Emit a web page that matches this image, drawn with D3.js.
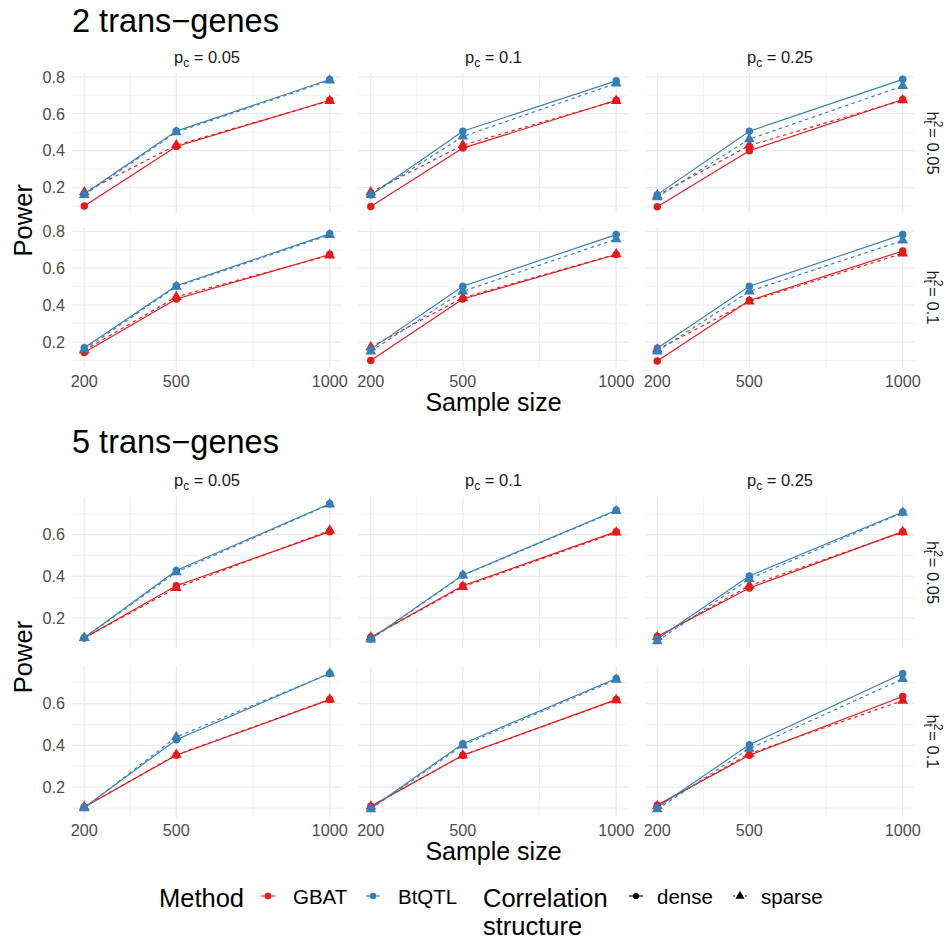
<!DOCTYPE html>
<html>
<head>
<meta charset="utf-8">
<script src="https://cdn.jsdelivr.net/npm/d3@7"></script>
<style>
  body { margin: 0; background: #fff; }
  text { font-family: "Liberation Sans", Arial, sans-serif; }
</style>
</head>
<body>
<div id="chart"></div>
<script>
// facets and categories
const sampleSizes = [200, 500, 1000];
const pcLevels = ["0.05", "0.1", "0.25"];
const h2Levels = ["0.05", "0.1"];
const methods = ["GBAT", "BtQTL"];
const structures = ["dense", "sparse"];
const blockTitles = ["2 trans\u2212genes", "5 trans\u2212genes"];

// power values; rows = panels [h2=0.05: pc .05,.1,.25 | h2=0.1: pc .05,.1,.25], cols = sample size
const gbatDense2 = [
  [0.100, 0.423, 0.673], [0.098, 0.414, 0.673], [0.097, 0.400, 0.677],
  [0.144, 0.433, 0.674], [0.100, 0.433, 0.674], [0.098, 0.425, 0.693]
];
const gbatSparse2 = [
  [0.175, 0.430, 0.670], [0.175, 0.430, 0.670], [0.157, 0.428, 0.673],
  [0.155, 0.445, 0.670], [0.173, 0.440, 0.676], [0.160, 0.420, 0.680]
];
const btqtlDense2 = [
  [0.165, 0.506, 0.785], [0.160, 0.505, 0.778], [0.162, 0.505, 0.786],
  [0.170, 0.505, 0.786], [0.162, 0.502, 0.782], [0.167, 0.502, 0.782]
];
const btqtlSparse2 = [
  [0.160, 0.500, 0.780], [0.160, 0.477, 0.764], [0.148, 0.462, 0.750],
  [0.160, 0.500, 0.780], [0.150, 0.475, 0.758], [0.150, 0.475, 0.750]
];

const gbatDense5 = [
  [0.105, 0.355, 0.614], [0.109, 0.355, 0.614], [0.112, 0.344, 0.614],
  [0.105, 0.353, 0.619], [0.108, 0.353, 0.619], [0.114, 0.353, 0.634]
];
const gbatSparse5 = [
  [0.105, 0.345, 0.620], [0.108, 0.350, 0.610], [0.110, 0.355, 0.612],
  [0.105, 0.355, 0.620], [0.108, 0.352, 0.617], [0.110, 0.360, 0.614]
];
const btqtlDense5 = [
  [0.106, 0.428, 0.747], [0.100, 0.407, 0.716], [0.100, 0.402, 0.708],
  [0.103, 0.427, 0.744], [0.098, 0.408, 0.720], [0.103, 0.403, 0.744]
];
const btqtlSparse5 = [
  [0.105, 0.420, 0.745], [0.098, 0.405, 0.713], [0.090, 0.388, 0.705],
  [0.100, 0.440, 0.744], [0.095, 0.400, 0.715], [0.095, 0.384, 0.718]
];

const yBreaks2 = [0.2, 0.4, 0.6, 0.8];
const yBreaks5 = [0.2, 0.4, 0.6];

const blocks = [
  { title: blockTitles[0], breaks: yBreaks2,
    data: { GBAT: { dense: gbatDense2, sparse: gbatSparse2 }, BtQTL: { dense: btqtlDense2, sparse: btqtlSparse2 } },
    titleY: 32, stripY: 63, rows: [[73, 213], [227.5, 367.5]], tickY: 386.5, xTitleY: 411 },
  { title: blockTitles[1], breaks: yBreaks5,
    data: { GBAT: { dense: gbatDense5, sparse: gbatSparse5 }, BtQTL: { dense: btqtlDense5, sparse: btqtlSparse5 } },
    titleY: 453, stripY: 486, rows: [[497, 648], [666, 817]], tickY: 835.5, xTitleY: 860 }
];

const width = 947, height = 941;
const colX = [72, 358.5, 645];
const panelW = 270;
const color = d3.scaleOrdinal().domain(methods).range(["#E41A1C", "#377EB8"]);
const dash = { dense: null, sparse: "3.5,3.5" };
const symbolOf = { dense: d3.symbol(d3.symbolCircle, 44), sparse: d3.symbol(d3.symbolTriangle, 50) };

const svg = d3.select("#chart").append("svg")
  .attr("width", width).attr("height", height);

const x = d3.scaleLinear().domain([160, 1040]).range([0, panelW]);
const xMinor = [350, 750];

blocks.forEach(function(b) {
  const all = [];
  methods.forEach(m => structures.forEach(s => b.data[m][s].forEach(r => all.push(...r))));
  const ext = d3.extent(all);
  const pad = (ext[1] - ext[0]) * 0.05;
  const yDom = [ext[0] - pad, ext[1] + pad];
  const yMinor = [0.1, 0.3, 0.5, 0.7, 0.9].filter(v => v > yDom[0] && v < yDom[1]);

  svg.append("text")
    .attr("x", 72).attr("y", b.titleY)
    .attr("font-size", 32.5).attr("fill", "#000")
    .text(b.title);

  // top strips
  pcLevels.forEach(function(pc, j) {
    const t = svg.append("text")
      .attr("x", colX[j] + panelW / 2).attr("y", b.stripY)
      .attr("text-anchor", "middle").attr("font-size", 16.5).attr("fill", "#1A1A1A");
    t.append("tspan").text("p");
    t.append("tspan").attr("font-size", 12).attr("dy", 3.5).text("c");
    t.append("tspan").attr("dy", -3.5).text(" = " + pc);
  });

  h2Levels.forEach(function(h, i) {
    const row = b.rows[i];
    const y = d3.scaleLinear().domain(yDom).range([row[1], row[0]]);
    const cy = (row[0] + row[1]) / 2;

    // right strip
    const t = svg.append("text")
      .attr("transform", `translate(927,${cy}) rotate(90)`)
      .attr("text-anchor", "middle").attr("font-size", 16.5).attr("fill", "#1A1A1A");
    t.append("tspan").text("h");
    t.append("tspan").attr("font-size", 12).attr("dy", -7).text("2");
    t.append("tspan").attr("font-size", 12).attr("dx", -7).attr("dy", 10.5).text("t");
    t.append("tspan").attr("dy", -3.5).text(" = " + h);

    // y tick labels on left column
    b.breaks.forEach(function(v) {
      svg.append("text")
        .attr("x", 65).attr("y", y(v) + 5.8)
        .attr("text-anchor", "end").attr("font-size", 16.2).attr("fill", "#4D4D4D")
        .text(v.toFixed(1));
    });

    pcLevels.forEach(function(pc, j) {
      const g = svg.append("g").attr("transform", `translate(${colX[j]},0)`);
      const k = i * 3 + j;

      g.selectAll(".minor-y").data(yMinor).enter().append("line")
        .attr("x1", 0).attr("x2", panelW).attr("y1", d => y(d)).attr("y2", d => y(d))
        .attr("stroke", "#EBEBEB").attr("stroke-width", 0.7);
      g.selectAll(".minor-x").data(xMinor).enter().append("line")
        .attr("x1", d => x(d)).attr("x2", d => x(d)).attr("y1", row[0]).attr("y2", row[1])
        .attr("stroke", "#EBEBEB").attr("stroke-width", 0.7);
      g.selectAll(".major-y").data(b.breaks).enter().append("line")
        .attr("x1", 0).attr("x2", panelW).attr("y1", d => y(d)).attr("y2", d => y(d))
        .attr("stroke", "#EBEBEB").attr("stroke-width", 1.3);
      g.selectAll(".major-x").data(sampleSizes).enter().append("line")
        .attr("x1", d => x(d)).attr("x2", d => x(d)).attr("y1", row[0]).attr("y2", row[1])
        .attr("stroke", "#EBEBEB").attr("stroke-width", 1.3);

      const line = d3.line().x(d => x(d[0])).y(d => y(d[1]));
      methods.forEach(function(m) {
        structures.forEach(function(s) {
          const pts = sampleSizes.map((n, q) => [n, b.data[m][s][k][q]]);
          g.append("path").attr("d", line(pts))
            .attr("fill", "none").attr("stroke", color(m)).attr("stroke-width", 1.15)
            .attr("stroke-dasharray", dash[s]);
        });
      });
      methods.forEach(function(m) {
        structures.forEach(function(s) {
          const pts = sampleSizes.map((n, q) => [n, b.data[m][s][k][q]]);
          g.selectAll(null).data(pts).enter().append("path")
            .attr("d", symbolOf[s])
            .attr("transform", d => `translate(${x(d[0])},${y(d[1])})`)
            .attr("fill", color(m));
        });
      });

      if (i === 1) {
        sampleSizes.forEach(function(n) {
          g.append("text")
            .attr("x", x(n)).attr("y", b.tickY)
            .attr("text-anchor", "middle").attr("font-size", 16.2).attr("fill", "#4D4D4D")
            .text(n);
        });
      }
    });
  });

  svg.append("text")
    .attr("x", (colX[0] + colX[2] + panelW) / 2).attr("y", b.xTitleY)
    .attr("text-anchor", "middle").attr("font-size", 25).attr("fill", "#000")
    .text("Sample size");
  svg.append("text")
    .attr("transform", `translate(32,${(b.rows[0][0] + b.rows[1][1]) / 2}) rotate(-90)`)
    .attr("text-anchor", "middle").attr("font-size", 25.5).attr("fill", "#000")
    .text("Power");
});

// legend
const lg = svg.append("g");
lg.append("text").attr("x", 159).attr("y", 907).attr("font-size", 25.5).text("Method");
const methodKeyX = [268, 373];
methods.forEach(function(m, i) {
  const kx = methodKeyX[i];
  lg.append("line").attr("x1", kx - 7).attr("x2", kx + 7).attr("y1", 896).attr("y2", 896)
    .attr("stroke", color(m)).attr("stroke-width", 1.15);
  lg.append("path").attr("d", d3.symbol(d3.symbolCircle, 34)).attr("transform", `translate(${kx},896)`).attr("fill", color(m));
  lg.append("text").attr("x", kx + 25).attr("y", 903.5).attr("font-size", 20.5).text(m);
});
lg.append("text").attr("x", 483).attr("y", 907).attr("font-size", 25.5).text("Correlation");
lg.append("text").attr("x", 483).attr("y", 935).attr("font-size", 25.5).text("structure");
const structKeyX = [636, 740];
structures.forEach(function(s, i) {
  const kx = structKeyX[i];
  lg.append("line").attr("x1", kx - 7).attr("x2", kx + 7).attr("y1", 896).attr("y2", 896)
    .attr("stroke", "#000").attr("stroke-width", 1.15).attr("stroke-dasharray", s === "sparse" ? "2,2" : null);
  lg.append("path").attr("d", d3.symbol(s === "dense" ? d3.symbolCircle : d3.symbolTriangle, s === "dense" ? 30 : 36))
    .attr("transform", `translate(${kx},896)`).attr("fill", "#000");
  lg.append("text").attr("x", kx + 21).attr("y", 903.5).attr("font-size", 20.5).text(s);
});
</script>
</body>
</html>
